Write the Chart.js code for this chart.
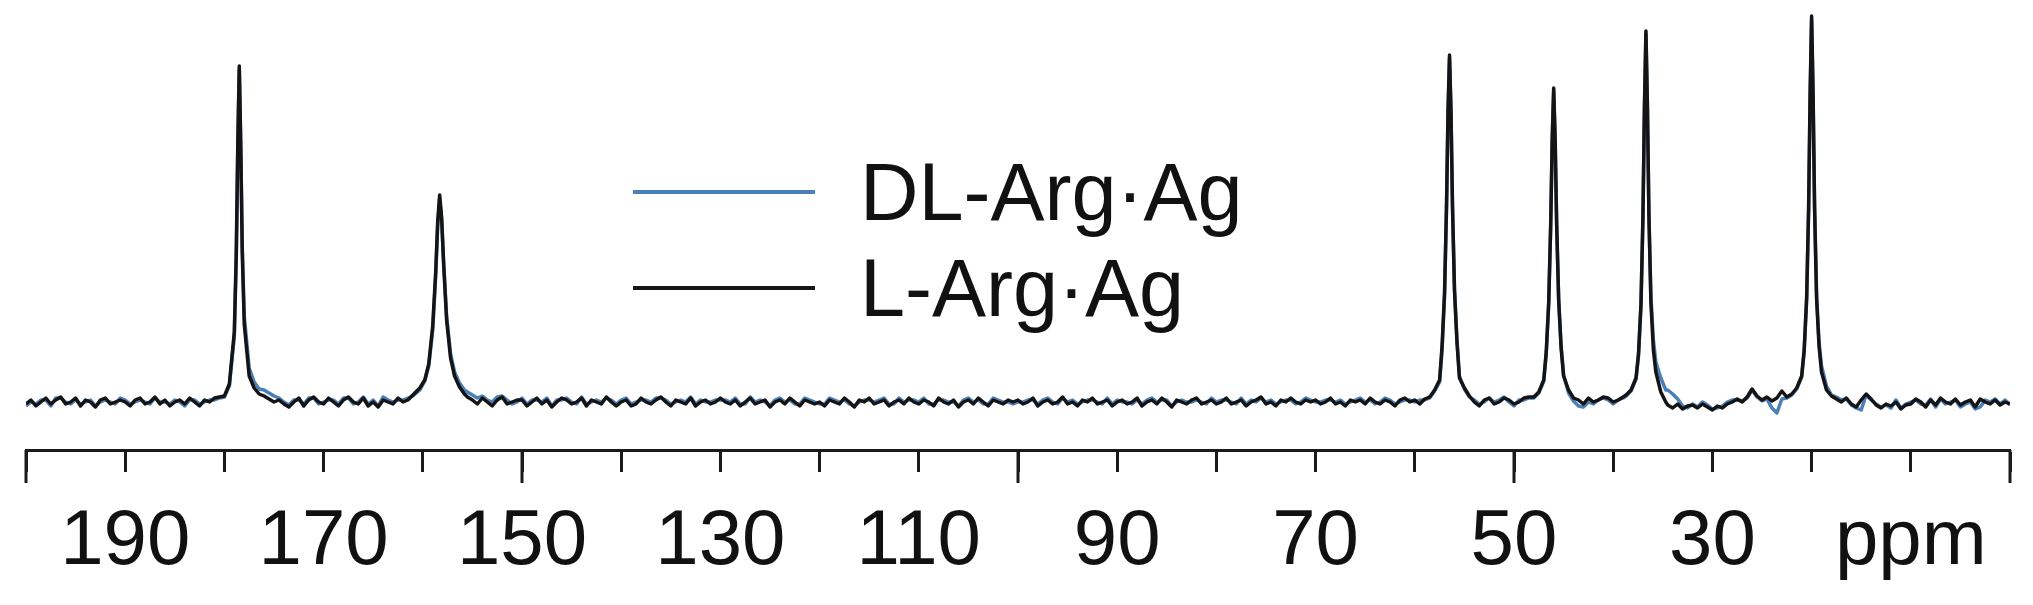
<!DOCTYPE html>
<html>
<head>
<meta charset="utf-8">
<script src="https://cdn.jsdelivr.net/npm/chart.js@4.4.1/dist/chart.umd.min.js"></script>
<style>
  body { margin: 0; background: #fff; }
  #wrap { position: relative; width: 2033px; height: 605px; }
  #legend { position: absolute; left: 633px; top: 144px; font-family: 'Liberation Sans', Arial, sans-serif; font-size: 81px; color: #111; }
  #legend .row { display: flex; align-items: center; height: 96px; }
  #legend .swatch { width: 182px; height: 4px; margin-right: 45px; }
</style>
</head>
<body>
<div id="wrap">
  <canvas id="nmr"></canvas>
  <div id="legend"></div>
</div>
<script>
// chemical shift (ppm)
var ppm = [
  200,199.5,199,198.5,198,197.5,197,196.5,196,195.5,195,194.5,194,193.5,193,192.5,192,191.5,191,190.5,
  190,189.5,189,188.5,188,187.5,187,186.5,186,185.5,185,184.5,184,183.5,183,182.5,182,181.5,181,180.5,
  180,179.5,179,178.8,178.65,178.5,178.35,178.2,178,177.5,177,176.5,
  176,175.5,175,174.5,174,173.5,173,172.5,172,171.5,171,170.5,
  170,169.5,169,168.5,168,167.5,167,166.5,166,165.5,165,164.5,164,163.5,163,162.5,162,161.5,
  161,160.3,159.8,159.4,159,158.7,158.5,158.3,158.1,157.9,157.6,157.2,156.8,156.3,155.8,
  155.5,155,154.5,154,153.5,153,152.5,152,151.5,151,150.5,
  150,149.5,149,148.5,148,147.5,147,146.5,146,145.5,145,144.5,144,143.5,143,142.5,142,141.5,141,140.5,
  140,139.5,139,138.5,138,137.5,137,136.5,136,135.5,135,134.5,134,133.5,133,132.5,132,131.5,131,130.5,
  130,129.5,129,128.5,128,127.5,127,126.5,126,125.5,125,124.5,124,123.5,123,122.5,122,121.5,121,120.5,
  120,119.5,119,118.5,118,117.5,117,116.5,116,115.5,115,114.5,114,113.5,113,112.5,112,111.5,111,110.5,
  110,109.5,109,108.5,108,107.5,107,106.5,106,105.5,105,104.5,104,103.5,103,102.5,102,101.5,101,100.5,
  100,99.5,99,98.5,98,97.5,97,96.5,96,95.5,95,94.5,94,93.5,93,92.5,92,91.5,91,90.5,
  90,89.5,89,88.5,88,87.5,87,86.5,86,85.5,85,84.5,84,83.5,83,82.5,82,81.5,81,80.5,
  80,79.5,79,78.5,78,77.5,77,76.5,76,75.5,75,74.5,74,73.5,73,72.5,72,71.5,71,70.5,
  70,69.5,69,68.5,68,67.5,67,66.5,66,65.5,65,64.5,64,63.5,63,62.5,62,61.5,61,60.5,
  60,59.5,59,
  58.5,58,57.5,57.25,57,56.8,56.65,56.5,56.35,56.2,56,55.75,55.5,55,54.5,
  54,53.5,53,52.5,52,51.5,51,50.5,50,49.5,49,48.5,
  48,47.5,47,46.75,46.5,46.3,46.15,46,45.85,45.7,45.5,45.25,45,44.5,44,
  43.5,43,42.5,42,41.5,41,40.5,40,39.5,39,
  38.7,38.2,37.7,37.45,37.2,37,36.85,36.7,36.55,36.4,36.2,35.95,35.7,35.2,34.7,
  34.5,34,33.5,33,32.5,32,31.5,31,30.5,
  30,29.5,29,28.5,28,27.5,27,26.5,26,25.5,25,24.5,24,23.5,23,22.5,
  22,21.5,21,20.75,20.5,20.3,20.15,20,19.85,19.7,19.5,19.25,19,18.5,18,
  17.5,17,16.5,16,15.5,15,14.5,14,13.5,13,12.5,12,11.5,11,10.5,
  10,9.5,9,8.5,8,7.5,7,6.5,6,5.5,5,4.5,4,3.5,3,2.5,2,1.5,1,0.5,0
];

// intensity (a.u.) of DL-Arg·Ag, same rows as ppm
var dlArgAg = [
  -4,0,-2,2,2,-4,4,4,0,-2,2,-2,0,2,-4,0,2,0,-2,4,
  2,-2,0,2,0,-2,4,0,0,-2,2,0,-4,2,2,-2,0,2,2,4,
  5,16,66,146,252,333,256,155,86,34,20,13,
  12,9,6,4,0,-3,2,2,-2,4,4,-2,
  0,2,2,-2,4,4,-2,0,5,-2,2,-4,5,2,0,2,2,4,
  6,12,21,36,72,126,176,203,182,140,86,48,30,19,12,
  10,7,4,6,2,0,5,6,2,-2,0,
  4,-2,2,2,0,4,-4,2,2,4,0,-2,5,-2,0,2,0,4,2,-2,
  2,4,-2,0,2,2,0,4,4,2,-2,0,2,0,5,-2,2,0,0,2,
  2,2,0,4,-2,-2,5,0,2,0,-4,2,4,0,2,-2,-2,4,2,0,
  -2,-2,4,2,0,2,-2,-4,0,2,2,0,2,4,-2,-2,4,0,2,2,
  0,4,-2,-2,2,2,0,0,-4,2,4,0,2,-2,-2,4,2,0,0,-2,
  0,0,2,2,-2,2,4,0,-2,4,0,2,-2,0,2,2,0,-2,4,-2,
  2,0,0,-2,2,-2,2,4,0,2,2,-4,0,2,0,0,2,0,-2,4,
  0,2,2,0,-2,4,-2,2,0,4,0,2,-2,0,2,2,-2,0,4,2,
  0,0,2,2,0,2,-2,0,2,4,0,2,-2,0,4,2,-2,0,2,2,
  0,2,2,
  4,11,20,52,106,194,288,344,288,195,113,62,26,13,5,
  2,-2,0,4,0,2,5,0,-4,2,2,4,
  4,9,21,48,98,176,260,311,260,178,104,56,27,9,1,
  -4,-5,0,-2,2,4,2,-2,2,4,
  6,11,23,46,96,184,292,368,294,188,106,62,40,24,12,
  12,8,3,-4,-6,-2,-5,0,-3,
  -7,-6,-4,0,2,2,1,4,12,5,1,3,-6,-11,3,4,
  7,13,25,50,102,192,304,382,306,196,108,60,36,16,7,
  5,2,3,-3,-6,-8,7,2,-2,-5,-3,-6,2,-6,-2,
  0,2,-2,-3,3,-5,3,-2,0,2,-5,-2,0,-7,-5,2,0,3,-2,2,-3
];

// intensity (a.u.) of L-Arg·Ag, same rows as ppm
var lArgAg = [
  -2,2,-4,0,4,-2,2,5,-2,0,4,-4,2,0,-5,2,4,-2,0,2,
  0,-4,2,4,-2,0,5,-2,2,-4,0,2,-2,4,0,-4,2,0,4,5,
  6,18,70,150,258,336,255,150,78,26,14,8,
  6,3,0,2,-2,-5,0,4,-4,2,5,0,
  -2,4,0,-4,2,5,0,-2,4,-4,0,-5,2,0,-2,4,0,2,
  7,14,22,38,76,130,180,207,184,138,82,44,26,15,8,
  5,2,-2,4,0,-4,2,5,-2,0,2,
  2,-4,0,4,-2,2,-5,0,4,2,-2,0,4,-4,2,0,-2,5,0,-4,
  0,2,-4,-2,4,0,-2,2,5,0,-4,2,0,-2,4,-4,0,2,-2,0,
  4,0,-2,2,-4,0,4,-2,0,2,-5,0,2,-2,4,0,-4,2,0,-2,
  0,-4,2,0,-2,4,0,-5,2,0,4,-2,0,2,-4,0,2,-2,4,0,
  -2,2,0,-4,4,0,-2,2,-5,0,2,-2,4,0,-4,2,0,-2,2,0,
  2,-2,0,4,-4,0,2,-2,0,5,-2,0,-4,2,0,4,-2,0,2,-4,
  0,2,-2,0,4,-4,0,2,-2,4,0,-5,2,0,-2,2,4,-2,0,2,
  -2,0,4,-2,0,2,-4,0,2,5,-2,0,-4,2,0,4,0,-2,2,0,
  2,-2,0,4,-2,0,-4,2,0,2,-2,4,0,-2,2,0,-4,2,4,0,
  2,-2,3,
  5,12,22,56,110,198,292,347,290,196,112,60,24,14,6,
  0,-4,2,4,-2,0,4,2,-2,0,4,5,
  5,10,22,50,100,178,262,314,262,178,102,54,26,12,4,
  2,-2,4,0,2,5,4,0,2,5,
  7,12,24,48,98,186,296,371,296,186,100,52,30,10,0,
  -3,-6,-2,-7,-4,-3,-6,-2,-5,
  -8,-4,-6,-2,0,3,0,5,13,6,2,5,1,4,11,5,
  8,14,26,52,104,194,308,386,308,194,104,56,30,12,6,
  3,0,4,-2,-5,2,8,3,-3,-6,-2,-4,0,-7,-3,
  -2,3,0,-5,2,-3,4,0,-2,3,-3,0,2,-5,3,0,-2,2,-3,0,-2
];

var seriesNames = ['DL-Arg\u00b7Ag', 'L-Arg\u00b7Ag'];
var seriesColors = ['#4b7fb8', '#141414'];

// x axis labels
var labelValues = [190, 170, 150, 130, 110, 90, 70, 50, 30, 10];
var labelTexts = ['190', '170', '150', '130', '110', '90', '70', '50', '30', 'ppm'];
var majorTickValues = [200, 150, 100, 50, 0];

function points(vals) {
  return ppm.map(function (p, i) { return { x: p, y: vals[i] }; });
}

// the longer ticks every 50 ppm
var longTicks = {
  id: 'longTicks',
  afterDraw: function (chart) {
    var sx = chart.scales.x;
    var ctx = chart.ctx;
    ctx.save();
    ctx.strokeStyle = '#1a1a1a';
    ctx.lineWidth = 3;
    majorTickValues.forEach(function (v) {
      var px = sx.getPixelForValue(v);
      ctx.beginPath();
      ctx.moveTo(px, sx.top);
      ctx.lineTo(px, sx.top + 33);
      ctx.stroke();
    });
    ctx.restore();
  }
};

var chart = new Chart(document.getElementById('nmr'), {
  type: 'line',
  data: {
    datasets: [
      { label: seriesNames[0], data: points(dlArgAg), borderColor: seriesColors[0], borderWidth: 3.5, order: 1 },
      { label: seriesNames[1], data: points(lArgAg), borderColor: seriesColors[1], borderWidth: 3.5, order: 0 }
    ]
  },
  options: {
    responsive: true,
    maintainAspectRatio: false,
    animation: false,
    events: [],
    elements: { point: { radius: 0 }, line: { tension: 0, borderJoinStyle: 'round' } },
    layout: { padding: { left: 26, right: 23, top: 0, bottom: 0 } },
    plugins: { legend: { display: false }, tooltip: { enabled: false } },
    scales: {
      x: {
        type: 'linear',
        min: 0,
        max: 200,
        reverse: true,
        afterFit: function (scale) { scale.height = 155; },
        border: { display: true, color: '#1a1a1a', width: 3 },
        grid: { drawOnChartArea: false, drawTicks: true, tickLength: 22, tickWidth: 3, tickColor: '#1a1a1a' },
        ticks: {
          stepSize: 10,
          autoSkip: false,
          maxRotation: 0,
          padding: 22,
          color: '#111',
          font: { family: "'Liberation Sans', Arial, sans-serif", size: 78, lineHeight: 1.24 },
          callback: function (value) {
            var k = labelValues.indexOf(value);
            return k < 0 ? '' : labelTexts[k];
          }
        }
      },
      y: { display: false, min: -48, max: 402 }
    }
  },
  plugins: [longTicks]
});

// legend as html rows
var legend = document.getElementById('legend');
chart.data.datasets.forEach(function (ds) {
  var row = document.createElement('div');
  row.className = 'row';
  var sw = document.createElement('span');
  sw.className = 'swatch';
  sw.style.background = ds.borderColor;
  var txt = document.createElement('span');
  txt.textContent = ds.label;
  row.appendChild(sw);
  row.appendChild(txt);
  legend.appendChild(row);
});
</script>
</body>
</html>
